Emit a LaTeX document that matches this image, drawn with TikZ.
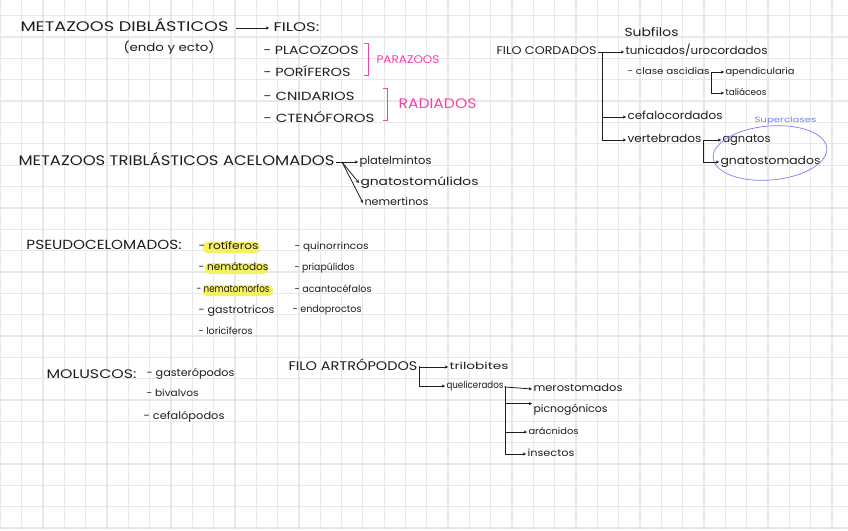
\documentclass[tikz,border=0pt]{standalone}
\usepackage{fontspec}
\setmainfont{Poppins}
\usetikzlibrary{arrows.meta}
\definecolor{ink}{HTML}{1E1E1E}
\definecolor{pinkc}{HTML}{FF3DA8}
\definecolor{bluec}{HTML}{7383F2}
\definecolor{hl}{HTML}{F6F163}
\definecolor{gridc}{HTML}{E8E8E8}
\newcommand{\fw}[3]{\resizebox{#1pt}{#2pt}{\raisebox{0pt}[0.72em][0.2em]{#3}}}
\tikzset{
  t/.style={anchor=west, inner sep=0pt, outer sep=1.5pt, text=ink},
  tp/.style={t, text=pinkc},
  tb/.style={t, text=bluec},
  conn/.style={line width=0.8pt, draw=ink},
  arr/.style={conn, -{Stealth[length=3.2pt,width=3.2pt]}},
  gridline/.style={draw=gridc, line width=1.3pt},
  mark hl/.style={fill=hl, rounded corners=4pt, draw=none},
  brk/.style={draw=pinkc, line width=0.9pt}
}
\begin{document}
\begin{tikzpicture}[x=1pt,y=-1pt]
\useasboundingbox (0,0) rectangle (848,530);
\fill[white] (0,0) rectangle (848,530);
\foreach \i in {0,...,39} \draw[gridline] ({0.4+21.32*\i},0) -- ({0.4+21.32*\i},530);
\foreach \j in {0,...,24} \draw[gridline] (0,{15.7+21.35*\j}) -- (848,{15.7+21.35*\j});

% highlights
\fill[mark hl] (203,242) rectangle (260,253);
\fill[mark hl] (205,263) rectangle (268,274);
\fill[mark hl] (203,285) rectangle (273,296);

% ---- diblasticos
\node[t] (dib) at (19,28) {\fw{208}{10}{METAZOOS DIBLÁSTICOS}};
\node[t] (filos) at (272,28) {\fw{46}{9}{FILOS:}};
\node[t] (endo) at (122,49) {\fw{91}{8}{(endo y ecto)}};
\node[t] (plac) at (262,51) {\fw{95}{8.5}{- PLACOZOOS}};
\node[t] (pori) at (262,73) {\fw{87}{8.5}{- PORÍFEROS}};
\node[t] (cnid) at (262,97) {\fw{91}{8.5}{- CNIDARIOS}};
\node[t] (cten) at (262,119) {\fw{111}{8.5}{- CTENÓFOROS}};
\node[tp] (paraz) at (375,61) {\fw{63}{8}{PARAZOOS}};
\node[tp] (radi) at (397,105) {\fw{78}{10}{RADIADOS}};
\draw[arr, shorten <=6pt, shorten >=3pt] (dib.east) -- (filos.west);
\draw[brk] (364,43) -- (368,43) -- (368,75) -- (364,75);
\draw[brk] (383,88) -- (387,88) -- (387,120) -- (383,120);

% ---- cordados
\node[t] (cord) at (495,52) {\fw{100}{8}{FILO CORDADOS}};
\node[t] (subf) at (623,33) {\fw{54}{8.5}{Subfilos}};
\node[t] (tun) at (624,52) {\fw{142}{8}{tunicados/urocordados}};
\node[t] (asc) at (626,72) {\fw{82}{6.5}{- clase ascidias}};
\node[t] (apen) at (724,72) {\fw{69}{6.5}{apendicularia}};
\node[t] (tal) at (724,93) {\fw{41}{6.5}{taliáceos}};
\node[t] (cef) at (626,117) {\fw{95}{8}{cefalocordados}};
\node[t] (vert) at (626,140) {\fw{74}{8}{vertebrados}};
\node[t] (agn) at (721,140) {\fw{48}{8}{agnatos}};
\node[t] (gnat) at (719,162) {\fw{100}{8}{gnatostomados}};
\node[tb] (sup) at (753,121) {\fw{62}{5.5}{Superclases}};
\draw[bluec, line width=0.7pt, rotate around={5:(770,153)}] (770,153) ellipse [x radius=57pt, y radius=27pt];
\coordinate (cj) at (602,52);
\draw[arr] (cord.east) -- (tun.west);
\draw[arr] (cj) |- (vert.west);
\draw[arr] (cj |- cef.west) -- (cef.west);
\coordinate (aj) at (711,72);
\draw[arr] (asc.east) -- (apen.west);
\draw[arr] (aj) |- (tal.west);
\coordinate (vj) at (703,140);
\draw[arr] (vert.east) -- (agn.west);
\draw[arr] (vj) |- (gnat.west);

% ---- acelomados
\node[t] (acel) at (17,162) {\fw{316}{10}{METAZOOS TRIBLÁSTICOS ACELOMADOS}};
\node[t] (plat) at (358,162) {\fw{72}{8}{platelmintos}};
\node[t] (gnatu) at (359,183) {\fw{118}{8}{gnatostomúlidos}};
\node[t] (nem) at (363,203) {\fw{64}{7.5}{nemertinos}};
\coordinate (acj) at (342,162);
\draw[conn] (acel.east) -- (acj);
\draw[arr] (acj) -- (plat.west);
\draw[arr] (acj) -- (gnatu.west);
\draw[arr] (acj) -- (nem.west);

% ---- pseudocelomados
\node[t] (pseu) at (25,246) {\fw{155}{9.5}{PSEUDOCELOMADOS:}};
\node[t] (rot) at (197,247) {\fw{60}{7.5}{- rotíferos}};
\node[t] (nemat) at (197,268) {\fw{70}{7.5}{- nemátodos}};
\node[t] (nmorf) at (195,290) {\fw{73}{7.5}{- nematomorfos}};
\node[t] (gast) at (197,311) {\fw{76}{7.5}{- gastrotricos}};
\node[t] (lori) at (197,332) {\fw{54}{7}{- loricíferos}};
\node[t] (quin) at (293,247) {\fw{74}{7}{- quinorrincos}};
\node[t] (pria) at (293,268) {\fw{60}{7}{- priapúlidos}};
\node[t] (acan) at (293,290) {\fw{77}{7}{- acantocéfalos}};
\node[t] (endop) at (291,310) {\fw{69}{7}{- endoproctos}};

% ---- moluscos
\node[t] (mol) at (45,375) {\fw{90}{9}{MOLUSCOS:}};
\node[t] (gas) at (145,374) {\fw{88}{7.5}{- gasterópodos}};
\node[t] (biv) at (145,394) {\fw{52}{7}{- bivalvos}};
\node[t] (cefp) at (142,417) {\fw{81}{7.5}{- cefalópodos}};

% ---- artropodos
\node[t] (art) at (287,367) {\fw{129}{9}{FILO ARTRÓPODOS}};
\node[t] (tril) at (448,367) {\fw{59}{7}{trilobites}};
\node[t] (quel) at (445,386) {\fw{57}{7}{quelicerados}};
\node[t] (mero) at (532,389) {\fw{89}{7.5}{merostomados}};
\node[t] (pic) at (532,410) {\fw{74}{7.5}{picnogónicos}};
\node[t] (arac) at (527,432) {\fw{50}{6.5}{arácnidos}};
\node[t] (ins) at (526,454) {\fw{47}{7}{insectos}};
\coordinate (aj2) at (419,366);
\draw[arr] (art.east) -- (tril.west);
\draw[arr] (aj2) |- (quel.west);
\coordinate (qj) at (505,387);
\draw[arr] (quel.east) -- (qj) -- (mero.west);
\draw[arr] (qj) |- (ins.west);
\draw[arr] (qj |- pic.north west) -- (pic.north west);
\draw[arr] (qj |- arac.west) -- (arac.west);
\end{tikzpicture}
\end{document}
